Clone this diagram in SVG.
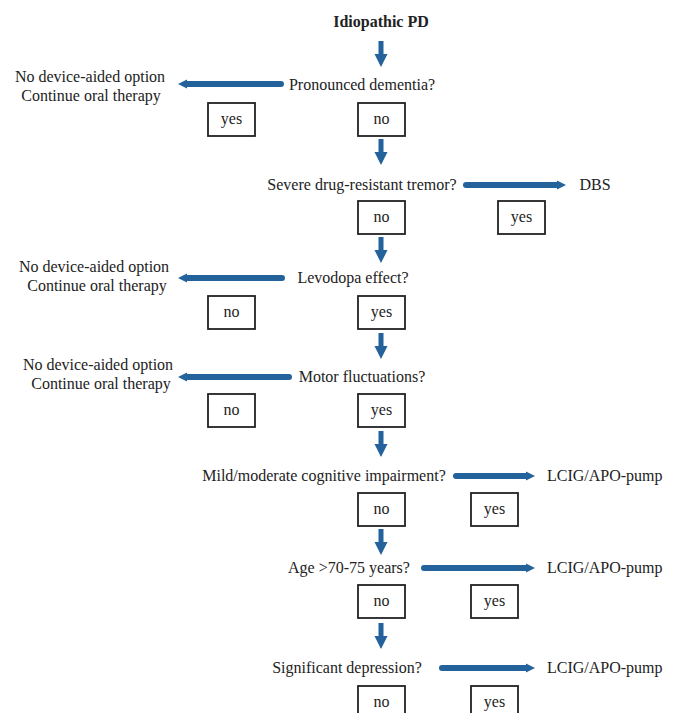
<svg xmlns="http://www.w3.org/2000/svg" width="673" height="713" viewBox="0 0 673 713">
<style>
text{font-family:"Liberation Serif","Times New Roman",serif;font-size:16px;fill:#222}
.t{font-weight:bold}
.box{fill:#fff;stroke:#222;stroke-width:1.8}
.sh{stroke:#23629b;stroke-width:6;stroke-linecap:round;fill:none}
.hd{fill:#23629b}
.dn{fill:#23629b}
</style>
<defs>
<path id="down" d="M-2.5,0 H2.5 V13 H6.5 L0,26 L-6.5,13 H-2.5 Z"/>
</defs>
<rect width="673" height="713" fill="#fff"/>
<g id="connectors">
<use href="#down" class="dn" x="381" y="41"/>
<use href="#down" class="dn" x="381" y="139"/>
<use href="#down" class="dn" x="381" y="237"/>
<use href="#down" class="dn" x="381" y="333"/>
<use href="#down" class="dn" x="381" y="431"/>
<use href="#down" class="dn" x="381" y="529"/>
<use href="#down" class="dn" x="381" y="623"/>
<line class="sh" x1="281" y1="84" x2="186" y2="84"/><path class="hd" d="M178,84 L187,79.5 L187,88.5 Z"/>
<line class="sh" x1="466" y1="185" x2="558" y2="185"/><path class="hd" d="M566,185 L557,180.5 L557,189.5 Z"/>
<line class="sh" x1="282" y1="278" x2="186" y2="278"/><path class="hd" d="M178,278 L187,273.5 L187,282.5 Z"/>
<line class="sh" x1="289" y1="377" x2="186" y2="377"/><path class="hd" d="M178,377 L187,372.5 L187,381.5 Z"/>
<line class="sh" x1="456" y1="476" x2="527" y2="476"/><path class="hd" d="M535,476 L526,471.5 L526,480.5 Z"/>
<line class="sh" x1="424" y1="568" x2="527" y2="568"/><path class="hd" d="M535,568 L526,563.5 L526,572.5 Z"/>
<line class="sh" x1="442" y1="668" x2="527" y2="668"/><path class="hd" d="M535,668 L526,663.5 L526,672.5 Z"/>
</g>
<g id="title"><text class="t" x="381" y="27" text-anchor="middle">Idiopathic PD</text></g>
<g id="q1"><text x="362" y="90" text-anchor="middle">Pronounced dementia?</text></g>
<g id="r1"><text x="90" y="82" text-anchor="middle">No device-aided option</text><text x="91" y="101" text-anchor="middle">Continue oral therapy</text></g>
<g id="b1y"><rect class="box" x="208" y="103" width="47" height="33"/><text x="231.5" y="124" text-anchor="middle">yes</text></g>
<g id="b1n"><rect class="box" x="358" y="103" width="47" height="33"/><text x="381.5" y="124" text-anchor="middle">no</text></g>
<g id="q2"><text x="362" y="190" text-anchor="middle">Severe drug-resistant tremor?</text></g>
<g id="r2"><text x="595" y="190" text-anchor="middle">DBS</text></g>
<g id="b2n"><rect class="box" x="358" y="201" width="47" height="33"/><text x="381.5" y="222" text-anchor="middle">no</text></g>
<g id="b2y"><rect class="box" x="498" y="201" width="47" height="33"/><text x="521.5" y="222" text-anchor="middle">yes</text></g>
<g id="q3"><text x="353" y="283" text-anchor="middle">Levodopa effect?</text></g>
<g id="r3"><text x="94" y="272" text-anchor="middle">No device-aided option</text><text x="97" y="291" text-anchor="middle">Continue oral therapy</text></g>
<g id="b3n"><rect class="box" x="208" y="296" width="47" height="33"/><text x="231.5" y="317" text-anchor="middle">no</text></g>
<g id="b3y"><rect class="box" x="358" y="296" width="47" height="33"/><text x="381.5" y="317" text-anchor="middle">yes</text></g>
<g id="q4"><text x="362" y="382" text-anchor="middle">Motor fluctuations?</text></g>
<g id="r4"><text x="98" y="370" text-anchor="middle">No device-aided option</text><text x="101" y="389" text-anchor="middle">Continue oral therapy</text></g>
<g id="b4n"><rect class="box" x="208" y="394" width="47" height="33"/><text x="231.5" y="415" text-anchor="middle">no</text></g>
<g id="b4y"><rect class="box" x="358" y="394" width="47" height="33"/><text x="381.5" y="415" text-anchor="middle">yes</text></g>
<g id="q5"><text x="324" y="481" text-anchor="middle">Mild/moderate cognitive impairment?</text></g>
<g id="r5"><text x="547" y="481">LCIG/APO-pump</text></g>
<g id="b5n"><rect class="box" x="358" y="493" width="47" height="33"/><text x="381.5" y="514" text-anchor="middle">no</text></g>
<g id="b5y"><rect class="box" x="471" y="493" width="47" height="33"/><text x="494.5" y="514" text-anchor="middle">yes</text></g>
<g id="q6"><text x="349" y="573" text-anchor="middle">Age &gt;70-75 years?</text></g>
<g id="r6"><text x="547" y="573">LCIG/APO-pump</text></g>
<g id="b6n"><rect class="box" x="358" y="585" width="47" height="33"/><text x="381.5" y="606" text-anchor="middle">no</text></g>
<g id="b6y"><rect class="box" x="471" y="585" width="47" height="33"/><text x="494.5" y="606" text-anchor="middle">yes</text></g>
<g id="q7"><text x="347" y="673" text-anchor="middle">Significant depression?</text></g>
<g id="r7"><text x="547" y="673">LCIG/APO-pump</text></g>
<g id="b7n"><rect class="box" x="358" y="686" width="47" height="33"/><text x="381.5" y="707" text-anchor="middle">no</text></g>
<g id="b7y"><rect class="box" x="471" y="686" width="47" height="33"/><text x="494.5" y="707" text-anchor="middle">yes</text></g>
</svg>
